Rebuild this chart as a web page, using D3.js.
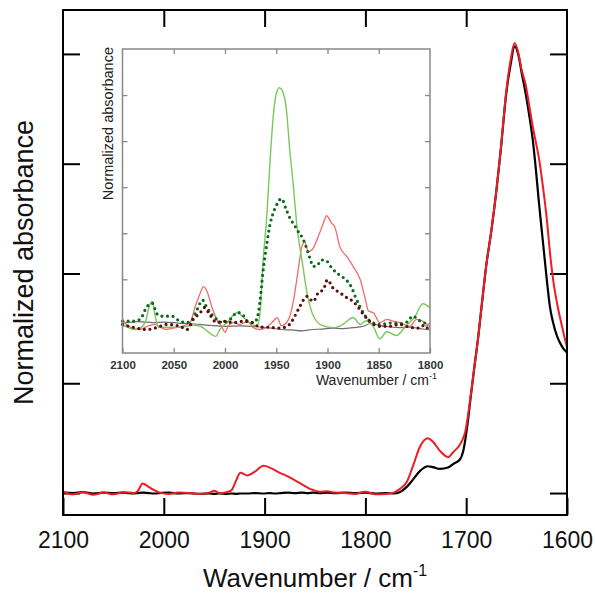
<!DOCTYPE html>
<html>
<head>
<meta charset="utf-8">
<script src="https://cdn.jsdelivr.net/npm/d3@7"></script>
<style>
	body { margin: 0; background: #fff; }
	svg text { font-family: 'Liberation Sans', Arial, sans-serif; }
</style>
</head>
<body>
<div id="chart"></div>
<script>
'use strict';

// main spectrum, wavenumber in cm-1
var mainWn = [2100,2090,2080,2070,2060,2050,2040,2030,2026,2021,2015,2010,2004,1995,1985,1975,1965,1955,1950,1945,1938,1933,1928,1924,1917,1910,1901,1895,1890,1884,1877,1870,1863,1857,1852,1845,1838,1830,1820,1810,1800,1790,1780,1772,1766,1759,1753,1746,1738,1733,1726,1718,1713,1706,1703,1701,1698,1696,1692,1688,1684,1680,1675,1670,1666,1660,1656,1652,1648,1645,1641,1638,1634,1631,1628,1624,1620,1617,1614,1610,1606,1603,1600];
var mainRed = [0.003,-0.003,0.002,-0.004,0.001,-0.003,0.002,0.000,0.004,0.022,0.014,0.007,0.001,-0.002,0.001,0.000,-0.002,0.001,0.005,0.000,0.002,0.006,0.030,0.046,0.040,0.048,0.062,0.058,0.052,0.045,0.038,0.029,0.020,0.012,0.007,0.003,0.004,0.001,0.000,-0.002,0.003,-0.003,-0.002,0.001,0.009,0.025,0.060,0.105,0.125,0.117,0.096,0.082,0.093,0.111,0.125,0.139,0.180,0.214,0.285,0.357,0.440,0.520,0.598,0.690,0.775,0.920,0.985,1.025,1.000,0.964,0.930,0.890,0.835,0.800,0.765,0.700,0.623,0.550,0.490,0.434,0.390,0.360,0.332];
var mainBlack = [0.001,0.000,0.002,-0.001,0.001,0.000,0.001,-0.001,0.000,0.001,0.000,-0.001,0.000,0.001,-0.001,0.000,-0.002,-0.001,-0.002,-0.001,-0.002,-0.001,-0.002,-0.001,-0.001,0.000,-0.001,0.000,-0.001,0.000,0.001,0.000,0.001,0.000,0.001,0.000,0.001,0.000,0.001,0.000,0.001,-0.001,0.000,-0.001,0.002,0.014,0.030,0.050,0.061,0.059,0.055,0.058,0.066,0.077,0.095,0.120,0.170,0.210,0.285,0.357,0.440,0.520,0.598,0.690,0.775,0.915,0.975,1.017,0.995,0.957,0.910,0.868,0.805,0.740,0.665,0.575,0.485,0.425,0.390,0.358,0.338,0.327,0.320];

// inset spectra
var greenWn = [2100,2094,2088,2082,2077,2074,2071,2068,2065,2057,2044,2031,2024,2017,2009,2005,1998,1988,1982,1974,1969,1966,1963,1959,1956,1953,1950,1947,1943,1940,1937,1933,1930,1927,1924,1920,1915,1910,1904,1894,1885,1875,1868,1862,1855,1849,1842,1833,1823,1815,1807,1800];
var greenAbs = [0.02,-0.05,-0.09,-0.05,0.12,0.41,0.52,0.19,-0.04,-0.04,-0.04,0.0,-0.02,-0.13,-0.24,-0.09,0.06,0.28,0.17,0.02,-0.02,0.22,1.35,2.45,3.59,4.52,5.03,5.16,5.03,4.67,3.85,2.95,2.2,1.7,1.28,0.7,0.27,0.07,-0.01,-0.05,0.02,0.17,0.02,0.1,-0.04,-0.29,-0.14,-0.22,0.0,0.18,0.47,0.38];

var redWn = [2100,2093,2083,2076,2068,2063,2057,2051,2042,2034,2029,2024,2021,2017,2013,2008,2003,2000,1997,1992,1985,1978,1973,1966,1959,1953,1949,1945,1938,1933,1928,1925,1922,1919,1915,1909,1904,1901,1896,1893,1888,1881,1875,1868,1863,1860,1855,1849,1842,1836,1829,1820,1813,1807,1802,1800];
var redAbs = [0.13,-0.04,-0.09,-0.02,0.02,-0.04,-0.09,-0.06,-0.02,0.06,0.41,0.71,0.84,0.71,0.41,0.13,-0.04,-0.15,-0.02,0.06,0.02,0.09,-0.04,-0.09,-0.04,0.09,0.17,-0.01,0.13,0.56,1.3,1.71,1.82,1.6,1.64,1.93,2.22,2.38,2.22,2.14,1.71,1.49,1.28,0.99,0.56,0.31,0.27,0.06,0.13,0.09,0.06,-0.02,0.13,0.09,0.02,0.05];

var darkGreenWn = [2100,2090,2083,2076,2071,2066,2061,2057,2052,2044,2037,2032,2027,2022,2018,2013,2008,2002,1995,1988,1983,1978,1973,1969,1966,1963,1959,1956,1953,1950,1945,1940,1936,1933,1929,1924,1920,1917,1914,1910,1906,1901,1896,1891,1886,1881,1876,1873,1868,1862,1856,1849,1839,1829,1822,1817,1810,1805,1800];
var darkGreenAbs = [0.09,0.09,0.13,0.41,0.48,0.24,0.2,0.2,0.2,0.09,0.06,0.13,0.35,0.55,0.4,0.24,0.13,0.06,0.13,0.28,0.24,0.09,0.06,0.13,0.5,1.15,1.8,2.2,2.44,2.6,2.75,2.5,2.3,2.2,2.05,1.88,1.65,1.45,1.28,1.3,1.42,1.4,1.25,1.14,1.06,0.97,0.8,0.63,0.39,0.17,0.06,0.02,0.05,0.04,0.08,0.2,0.1,0.05,0.02];

var maroonWn = [2100,2090,2076,2063,2057,2044,2037,2031,2024,2020,2015,2008,2002,1992,1982,1973,1966,1960,1946,1937,1932,1927,1920,1914,1909,1904,1900,1895,1888,1881,1875,1870,1865,1859,1849,1839,1830,1820,1810,1806,1800];
var maroonAbs = [0.02,-0.04,-0.09,-0.02,0.02,-0.02,-0.09,0.13,0.28,0.39,0.24,0.06,0.09,0.06,0.09,0.06,-0.04,-0.04,-0.06,0.02,0.2,0.41,0.63,0.52,0.71,0.78,0.99,0.82,0.71,0.6,0.52,0.39,0.24,0.09,-0.02,-0.02,0.02,-0.04,-0.06,0.0,-0.15];

var grayWn = [2100,2085,2070,2060,2045,2030,2015,2000,1985,1970,1955,1945,1935,1925,1915,1905,1895,1885,1875,1865,1858,1850,1840,1830,1820,1810,1800];
var grayAbs = [0.04,0.08,0.06,0.07,0.05,0.03,0.0,-0.02,-0.01,-0.03,-0.06,-0.09,-0.1,-0.12,-0.09,-0.08,-0.06,-0.07,-0.05,-0.02,0.04,0.0,-0.03,-0.05,-0.04,-0.07,-0.1];

var mainXTicks = [2100, 2000, 1900, 1800, 1700, 1600];
var mainYTicks = [0, 0.25, 0.5, 0.75, 1];
var insetXTicks = [2100, 2050, 2000, 1950, 1900, 1850, 1800];
var insetYTicks = [0, 1, 2, 3, 4, 5];

function zip(wn, vals){
	return wn.map(function(w, i){ return {wn: w, v: vals[i]}; });
}

var svg = d3.select('#chart').append('svg')
	.attr('width', 595)
	.attr('height', 595);

// ---- main plot ----
var frame = {left: 63, right: 567, top: 10, bottom: 515};

var x = d3.scaleLinear().domain([2100, 1600]).range([frame.left, frame.right]);
var y = d3.scaleLinear().domain([-0.05, 1.1]).range([frame.bottom, frame.top]);

var main = svg.append('g');

function styleAxis(g, color, width){
	g.select('.domain').remove();
	g.selectAll('.tick line').attr('stroke', color).attr('stroke-width', width);
}

main.append('g')
	.attr('transform', 'translate(0,' + frame.bottom + ')')
	.call(d3.axisBottom(x).tickValues(mainXTicks).tickSizeInner(-17).tickSizeOuter(0).tickPadding(17).tickFormat(d3.format('d')))
	.call(styleAxis, '#000', 2)
	.selectAll('text')
		.attr('font-size', 23)
		.attr('fill', '#111');

main.append('g')
	.attr('transform', 'translate(0,' + frame.top + ')')
	.call(d3.axisTop(x).tickValues(mainXTicks.slice(1, -1)).tickSizeInner(-17).tickSizeOuter(0).tickFormat(''))
	.call(styleAxis, '#000', 2);

main.append('g')
	.attr('transform', 'translate(' + frame.left + ',0)')
	.call(d3.axisLeft(y).tickValues(mainYTicks).tickSizeInner(-17).tickSizeOuter(0).tickFormat(''))
	.call(styleAxis, '#000', 2);

main.append('g')
	.attr('transform', 'translate(' + frame.right + ',0)')
	.call(d3.axisRight(y).tickValues(mainYTicks).tickSizeInner(-17).tickSizeOuter(0).tickFormat(''))
	.call(styleAxis, '#000', 2);

var mainLine = d3.line()
	.x(function(d){ return x(d.wn); })
	.y(function(d){ return y(d.v); })
	.curve(d3.curveMonotoneX);

main.append('path')
	.datum(zip(mainWn, mainBlack))
	.attr('fill', 'none')
	.attr('stroke', '#000')
	.attr('stroke-width', 2.2)
	.attr('d', mainLine);

main.append('path')
	.datum(zip(mainWn, mainRed))
	.attr('fill', 'none')
	.attr('stroke', '#ee1c24')
	.attr('stroke-width', 2)
	.attr('d', mainLine);

main.append('rect')
	.attr('x', frame.left)
	.attr('y', frame.top)
	.attr('width', frame.right - frame.left)
	.attr('height', frame.bottom - frame.top)
	.attr('fill', 'none')
	.attr('stroke', '#000')
	.attr('stroke-width', 2);

var xTitle = main.append('text')
	.attr('x', (frame.left + frame.right) / 2)
	.attr('y', 587)
	.attr('text-anchor', 'middle')
	.attr('font-size', 26)
	.attr('fill', '#111');
xTitle.append('tspan').text('Wavenumber / cm');
xTitle.append('tspan').attr('dy', -11).attr('font-size', 16).text('-1');

main.append('text')
	.attr('transform', 'translate(33,' + (frame.top + frame.bottom) / 2 + ') rotate(-90)')
	.attr('text-anchor', 'middle')
	.attr('font-size', 27)
	.attr('fill', '#111')
	.text('Normalized absorbance');

// ---- inset ----
var inFrame = {left: 122.5, right: 430, top: 49, bottom: 353};

var ix = d3.scaleLinear().domain([2100, 1800]).range([inFrame.left, inFrame.right]);
var iy = d3.scaleLinear().domain([-0.6, 6]).range([inFrame.bottom, inFrame.top]);

var inset = svg.append('g');

inset.append('rect')
	.attr('x', inFrame.left)
	.attr('y', inFrame.top)
	.attr('width', inFrame.right - inFrame.left)
	.attr('height', inFrame.bottom - inFrame.top)
	.attr('fill', '#fff');

inset.append('g')
	.attr('transform', 'translate(0,' + inFrame.bottom + ')')
	.call(d3.axisBottom(ix).tickValues(insetXTicks).tickSizeInner(-5).tickSizeOuter(0).tickPadding(8).tickFormat(d3.format('d')))
	.call(styleAxis, '#888', 1.3)
	.selectAll('text')
		.attr('font-size', 11.5)
		.attr('font-weight', 'bold')
		.attr('fill', '#333');

inset.append('g')
	.attr('transform', 'translate(0,' + inFrame.top + ')')
	.call(d3.axisTop(ix).tickValues(insetXTicks.slice(1, -1)).tickSizeInner(-5).tickSizeOuter(0).tickFormat(''))
	.call(styleAxis, '#888', 1.3);

inset.append('g')
	.attr('transform', 'translate(' + inFrame.left + ',0)')
	.call(d3.axisLeft(iy).tickValues(insetYTicks).tickSizeInner(-5).tickSizeOuter(0).tickFormat(''))
	.call(styleAxis, '#888', 1.3);

inset.append('g')
	.attr('transform', 'translate(' + inFrame.right + ',0)')
	.call(d3.axisRight(iy).tickValues(insetYTicks).tickSizeInner(-5).tickSizeOuter(0).tickFormat(''))
	.call(styleAxis, '#888', 1.3);

var insetLine = d3.line()
	.x(function(d){ return ix(d.wn); })
	.y(function(d){ return iy(d.v); })
	.curve(d3.curveMonotoneX);

var insetSeries = [
	{wn: grayWn, v: grayAbs, color: '#6e6e6e', width: 1.2, dots: false},
	{wn: redWn, v: redAbs, color: '#f26b6b', width: 1.3, dots: false},
	{wn: greenWn, v: greenAbs, color: '#79c95a', width: 1.4, dots: false},
	{wn: darkGreenWn, v: darkGreenAbs, color: '#0b6a1f', width: 3.2, dots: true},
	{wn: maroonWn, v: maroonAbs, color: '#5e0c0c', width: 3.2, dots: true}
];

inset.selectAll('path.series')
	.data(insetSeries)
	.enter()
	.append('path')
	.attr('class', 'series')
	.attr('fill', 'none')
	.attr('stroke', function(d){ return d.color; })
	.attr('stroke-width', function(d){ return d.width; })
	.attr('stroke-linecap', function(d){ return d.dots ? 'round' : 'butt'; })
	.attr('stroke-dasharray', function(d){ return d.dots ? '0,5.6' : null; })
	.attr('d', function(d){ return insetLine(zip(d.wn, d.v)); });

inset.append('rect')
	.attr('x', inFrame.left)
	.attr('y', inFrame.top)
	.attr('width', inFrame.right - inFrame.left)
	.attr('height', inFrame.bottom - inFrame.top)
	.attr('fill', 'none')
	.attr('stroke', '#888')
	.attr('stroke-width', 1.5);

var ixTitle = inset.append('text')
	.attr('x', 437)
	.attr('y', 385)
	.attr('text-anchor', 'end')
	.attr('font-size', 14)
	.attr('fill', '#222');
ixTitle.append('tspan').text('Wavenumber / cm');
ixTitle.append('tspan').attr('dy', -6).attr('font-size', 9).text('-1');

inset.append('text')
	.attr('transform', 'translate(113,47) rotate(-90)')
	.attr('text-anchor', 'end')
	.attr('font-size', 14.5)
	.attr('fill', '#222')
	.text('Normalized absorbance');
</script>
</body>
</html>
